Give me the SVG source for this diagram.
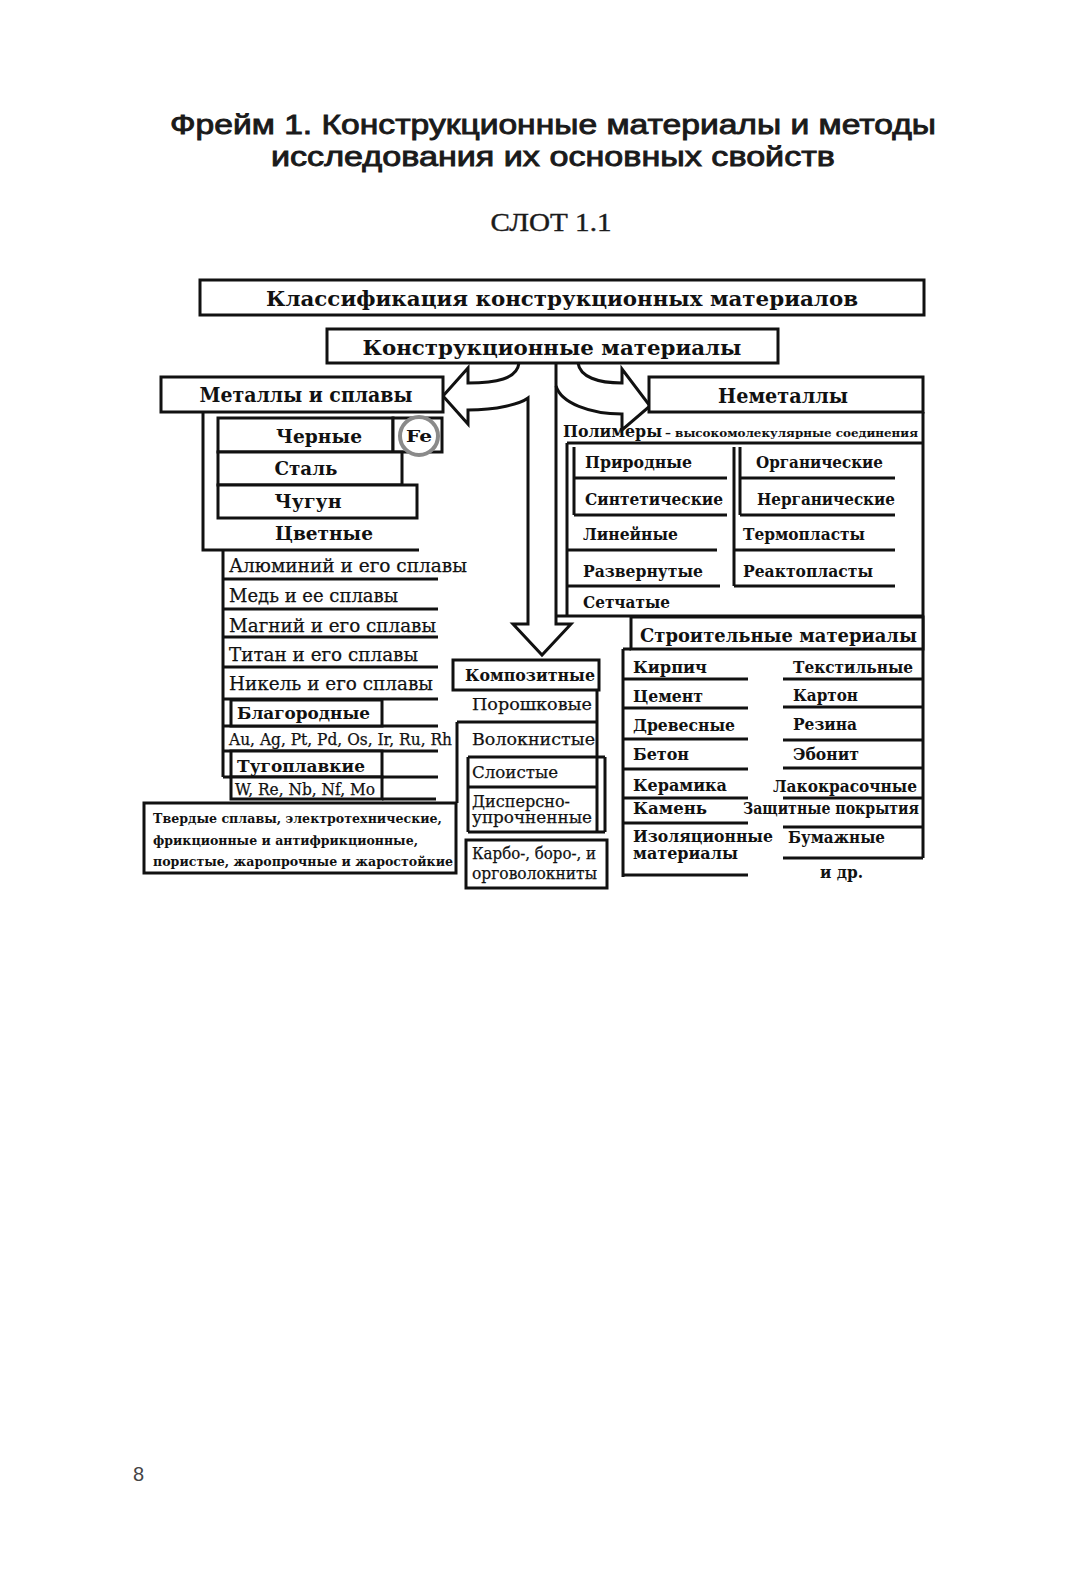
<svg xmlns="http://www.w3.org/2000/svg" width="1068" height="1582" viewBox="0 0 1068 1582">
<style>
.bx{fill:#fff;stroke:#111;stroke-width:3}
.ln{fill:none;stroke:#111;stroke-width:3}
.ar{fill:none;stroke:#111;stroke-width:3;stroke-linejoin:miter}
.tb{font-family:"DejaVu Serif","Liberation Serif",serif;font-weight:bold;fill:#111}
.tr{font-family:"DejaVu Serif","Liberation Serif",serif;fill:#111;stroke:#111;stroke-width:0.25}
.h{font-family:"Liberation Sans",Arial,sans-serif;fill:#1a1a1a;stroke:#1a1a1a;stroke-width:0.9}
</style>
<rect width="1068" height="1582" fill="#fff"/>

<g id="title">
<text class="h" x="553" y="134" font-size="28" text-anchor="middle" textLength="766" lengthAdjust="spacingAndGlyphs">Фрейм 1. Конструкционные материалы и методы</text>
<text class="h" x="553" y="166" font-size="28" text-anchor="middle" textLength="564" lengthAdjust="spacingAndGlyphs">исследования их основных свойств</text>
<text x="551" y="231" font-family="Liberation Serif,serif" font-size="25" fill="#1a1a1a" stroke="#1a1a1a" stroke-width="0.4" text-anchor="middle" textLength="121" lengthAdjust="spacingAndGlyphs">СЛОТ 1.1</text>
</g>

<g id="connectors">
<path class="ar" d="M519,363 C517,379 496,383 468,383 L468,368 L443,396 L468,424 L468,410 C497,410 520,404 528,398 L528,624 L513,624 L542,655 L571,624 L556,624 L556,363"/>
<path class="ar" d="M556,386 C561,403 590,414 622,414 L622,430 L650,406 L622,369 L622,383 C598,383 580,377 578,363"/>
</g>

<g id="classification">
<rect class="bx" x="200" y="280" width="724" height="35"/>
<text class="tb" x="562" y="306" font-size="21" text-anchor="middle" textLength="592" lengthAdjust="spacingAndGlyphs">Классификация конструкционных материалов</text>
</g>

<g id="konstr">
<rect class="bx" x="327" y="329" width="451" height="34"/>
<text class="tb" x="552" y="355" font-size="20" text-anchor="middle" textLength="379" lengthAdjust="spacingAndGlyphs">Конструкционные материалы</text>
</g>

<g id="metally">
<path class="ln" d="M203,412 V550 H419"/>
<rect class="bx" x="161" y="377" width="282" height="35"/>
<text class="tb" x="306" y="402" font-size="20" text-anchor="middle" textLength="213" lengthAdjust="spacingAndGlyphs">Металлы и сплавы</text>
</g>

<g id="chernye">
<rect class="bx" x="218" y="418" width="175" height="34"/>
<text class="tb" x="319" y="443" font-size="18" text-anchor="middle" textLength="86" lengthAdjust="spacingAndGlyphs">Черные</text>
<rect class="bx" x="393" y="418" width="49" height="34"/>
<circle cx="419" cy="436" r="19" fill="#fff" stroke="#8a8a8a" stroke-width="4"/>
<text class="tb" x="419" y="442" font-size="17" text-anchor="middle" textLength="26" lengthAdjust="spacingAndGlyphs">Fe</text>
</g>

<g id="stal">
<rect class="bx" x="218" y="452" width="184" height="33"/>
<text class="tb" x="306" y="475" font-size="18" text-anchor="middle" textLength="63" lengthAdjust="spacingAndGlyphs">Сталь</text>
</g>

<g id="chugun">
<rect class="bx" x="218" y="485" width="199" height="33"/>
<text class="tb" x="308" y="508" font-size="18" text-anchor="middle" textLength="67" lengthAdjust="spacingAndGlyphs">Чугун</text>
</g>

<g id="tsvetnye">
<text class="tb" x="324" y="540" font-size="18" text-anchor="middle" textLength="98" lengthAdjust="spacingAndGlyphs">Цветные</text>
<path class="ln" d="M223,550 V777 M223,579 H438 M223,609 H438 M223,637 H438 M223,667 H438 M223,699 H438 M223,726 H438 M223,751 H438 M223,777 H438 M382,799 H436"/>
<text class="tr" x="229" y="572" font-size="18" textLength="238" lengthAdjust="spacingAndGlyphs">Алюминий и его сплавы</text>
<text class="tr" x="229" y="602" font-size="18" textLength="169" lengthAdjust="spacingAndGlyphs">Медь и ее сплавы</text>
<text class="tr" x="229" y="632" font-size="18" textLength="207" lengthAdjust="spacingAndGlyphs">Магний и его сплавы</text>
<text class="tr" x="229" y="661" font-size="18" textLength="189" lengthAdjust="spacingAndGlyphs">Титан и его сплавы</text>
<text class="tr" x="229" y="690" font-size="18" textLength="204" lengthAdjust="spacingAndGlyphs">Никель и его сплавы</text>
</g>

<g id="blagorodnye">
<rect class="bx" x="231" y="700" width="151" height="26"/>
<text class="tb" x="237" y="719" font-size="17" textLength="133" lengthAdjust="spacingAndGlyphs">Благородные</text>
<text class="tr" x="229" y="745" font-size="16" textLength="223" lengthAdjust="spacingAndGlyphs">Au, Ag, Pt, Pd, Os, Ir, Ru, Rh</text>
</g>

<g id="tugoplavkie">
<rect class="bx" x="231" y="751" width="151" height="26"/>
<text class="tb" x="237" y="772" font-size="17" textLength="128" lengthAdjust="spacingAndGlyphs">Тугоплавкие</text>
<rect class="bx" x="231" y="777" width="151" height="22"/>
<text class="tr" x="235" y="795" font-size="16" textLength="140" lengthAdjust="spacingAndGlyphs">W, Re, Nb, Nf, Mo</text>
</g>

<g id="tverdye">
<rect class="bx" x="144" y="803" width="312" height="70"/>
<text class="tb" x="153" y="823" font-size="12.5" textLength="289" lengthAdjust="spacingAndGlyphs">Твердые сплавы, электротехнические,</text>
<text class="tb" x="153" y="845" font-size="12.5" textLength="265" lengthAdjust="spacingAndGlyphs">фрикционные и антифрикционные,</text>
<text class="tb" x="153" y="866" font-size="12.5" textLength="300" lengthAdjust="spacingAndGlyphs">пористые, жаропрочные и жаростойкие</text>
</g>

<g id="kompozitnye">
<path class="ln" d="M597,690 V832 M457,722 H597 M457,722 V803 M468,757 H605 M605,757 V832 M468,757 V832 M468,787 H597 M468,832 H605"/>
<rect class="bx" x="453" y="660" width="146" height="30"/>
<text class="tb" x="530" y="681" font-size="17" text-anchor="middle" textLength="130" lengthAdjust="spacingAndGlyphs">Композитные</text>
<text class="tr" x="472" y="710" font-size="17" textLength="120" lengthAdjust="spacingAndGlyphs">Порошковые</text>
<text class="tr" x="472" y="745" font-size="17" textLength="123" lengthAdjust="spacingAndGlyphs">Волокнистые</text>
<text class="tr" x="472" y="778" font-size="17" textLength="86" lengthAdjust="spacingAndGlyphs">Слоистые</text>
<text class="tr" x="472" y="807" font-size="16" textLength="98" lengthAdjust="spacingAndGlyphs">Дисперсно-</text>
<text class="tr" x="472" y="823" font-size="16" textLength="120" lengthAdjust="spacingAndGlyphs">упрочненные</text>
<rect class="bx" x="466" y="840" width="141" height="48"/>
<text class="tr" x="472" y="859" font-size="16" textLength="124" lengthAdjust="spacingAndGlyphs">Карбо-, боро-, и</text>
<text class="tr" x="472" y="879" font-size="16" textLength="125" lengthAdjust="spacingAndGlyphs">орговолокниты</text>
</g>

<g id="nemetally">
<path class="ln" d="M923,412 V649"/>
<rect class="bx" x="649" y="377" width="274" height="35"/>
<text class="tb" x="783" y="403" font-size="20" text-anchor="middle" textLength="130" lengthAdjust="spacingAndGlyphs">Неметаллы</text>
</g>

<g id="polimery">
<text class="tb" x="563" y="437" font-size="16.5" textLength="99" lengthAdjust="spacingAndGlyphs">Полимеры</text>
<text class="tb" x="665" y="437" font-size="11.5" textLength="253" lengthAdjust="spacingAndGlyphs">– высокомолекулярные соединения</text>
<path class="ln" d="M567,443 H923 M567,443 V616 M557,616 H923 M574,447 V515 M574,478 H727 M574,515 H727 M734,447 V586 M740,447 V515 M740,478 H895 M740,515 H895 M567,550 H717 M734,550 H895 M567,586 H720 M734,586 H895"/>
<text class="tb" x="585" y="468" font-size="16.5" textLength="107" lengthAdjust="spacingAndGlyphs">Природные</text>
<text class="tb" x="756" y="468" font-size="16.5" textLength="127" lengthAdjust="spacingAndGlyphs">Органические</text>
<text class="tb" x="585" y="505" font-size="16.5" textLength="138" lengthAdjust="spacingAndGlyphs">Синтетические</text>
<text class="tb" x="757" y="505" font-size="16.5" textLength="138" lengthAdjust="spacingAndGlyphs">Нерганические</text>
<text class="tb" x="583" y="540" font-size="16.5" textLength="95" lengthAdjust="spacingAndGlyphs">Линейные</text>
<text class="tb" x="743" y="540" font-size="16.5" textLength="122" lengthAdjust="spacingAndGlyphs">Термопласты</text>
<text class="tb" x="583" y="577" font-size="16.5" textLength="120" lengthAdjust="spacingAndGlyphs">Развернутые</text>
<text class="tb" x="743" y="577" font-size="16.5" textLength="130" lengthAdjust="spacingAndGlyphs">Реактопласты</text>
<text class="tb" x="583" y="608" font-size="16.5" textLength="87" lengthAdjust="spacingAndGlyphs">Сетчатые</text>
</g>

<g id="stroitelnye">
<rect class="bx" x="631" y="617" width="292" height="32"/>
<text class="tb" x="640" y="642" font-size="19" textLength="277" lengthAdjust="spacingAndGlyphs">Строительные материалы</text>
<path class="ln" d="M623,649 H631 M623,649 V877 M923,649 V858 M623,679 H748 M623,708 H748 M623,739 H748 M623,769 H748 M623,798 H748 M623,823 H748 M623,875 H748 M783,679 H923 M783,707 H923 M783,740 H923 M783,768 H923 M783,798 H923 M783,827 H923 M783,858 H923"/>
<text class="tb" x="633" y="673" font-size="16" textLength="74" lengthAdjust="spacingAndGlyphs">Кирпич</text>
<text class="tb" x="633" y="702" font-size="16" textLength="70" lengthAdjust="spacingAndGlyphs">Цемент</text>
<text class="tb" x="633" y="731" font-size="16" textLength="102" lengthAdjust="spacingAndGlyphs">Древесные</text>
<text class="tb" x="633" y="760" font-size="16" textLength="56" lengthAdjust="spacingAndGlyphs">Бетон</text>
<text class="tb" x="633" y="791" font-size="16" textLength="94" lengthAdjust="spacingAndGlyphs">Керамика</text>
<text class="tb" x="633" y="814" font-size="16" textLength="74" lengthAdjust="spacingAndGlyphs">Камень</text>
<text class="tb" x="633" y="842" font-size="16" textLength="140" lengthAdjust="spacingAndGlyphs">Изоляционные</text>
<text class="tb" x="633" y="859" font-size="16" textLength="105" lengthAdjust="spacingAndGlyphs">материалы</text>
<text class="tb" x="793" y="673" font-size="16" textLength="120" lengthAdjust="spacingAndGlyphs">Текстильные</text>
<text class="tb" x="793" y="701" font-size="16" textLength="65" lengthAdjust="spacingAndGlyphs">Картон</text>
<text class="tb" x="793" y="730" font-size="16" textLength="64" lengthAdjust="spacingAndGlyphs">Резина</text>
<text class="tb" x="793" y="760" font-size="16" textLength="66" lengthAdjust="spacingAndGlyphs">Эбонит</text>
<text class="tb" x="773" y="792" font-size="16" textLength="144" lengthAdjust="spacingAndGlyphs">Лакокрасочные</text>
<text class="tb" x="743" y="814" font-size="16" textLength="176" lengthAdjust="spacingAndGlyphs">Защитные покрытия</text>
<text class="tb" x="788" y="843" font-size="16" textLength="97" lengthAdjust="spacingAndGlyphs">Бумажные</text>
<text class="tb" x="820" y="878" font-size="16" textLength="43" lengthAdjust="spacingAndGlyphs">и др.</text>
</g>

<text x="133" y="1481" font-family="Liberation Sans,Arial,sans-serif" font-size="20" fill="#444">8</text>
</svg>
